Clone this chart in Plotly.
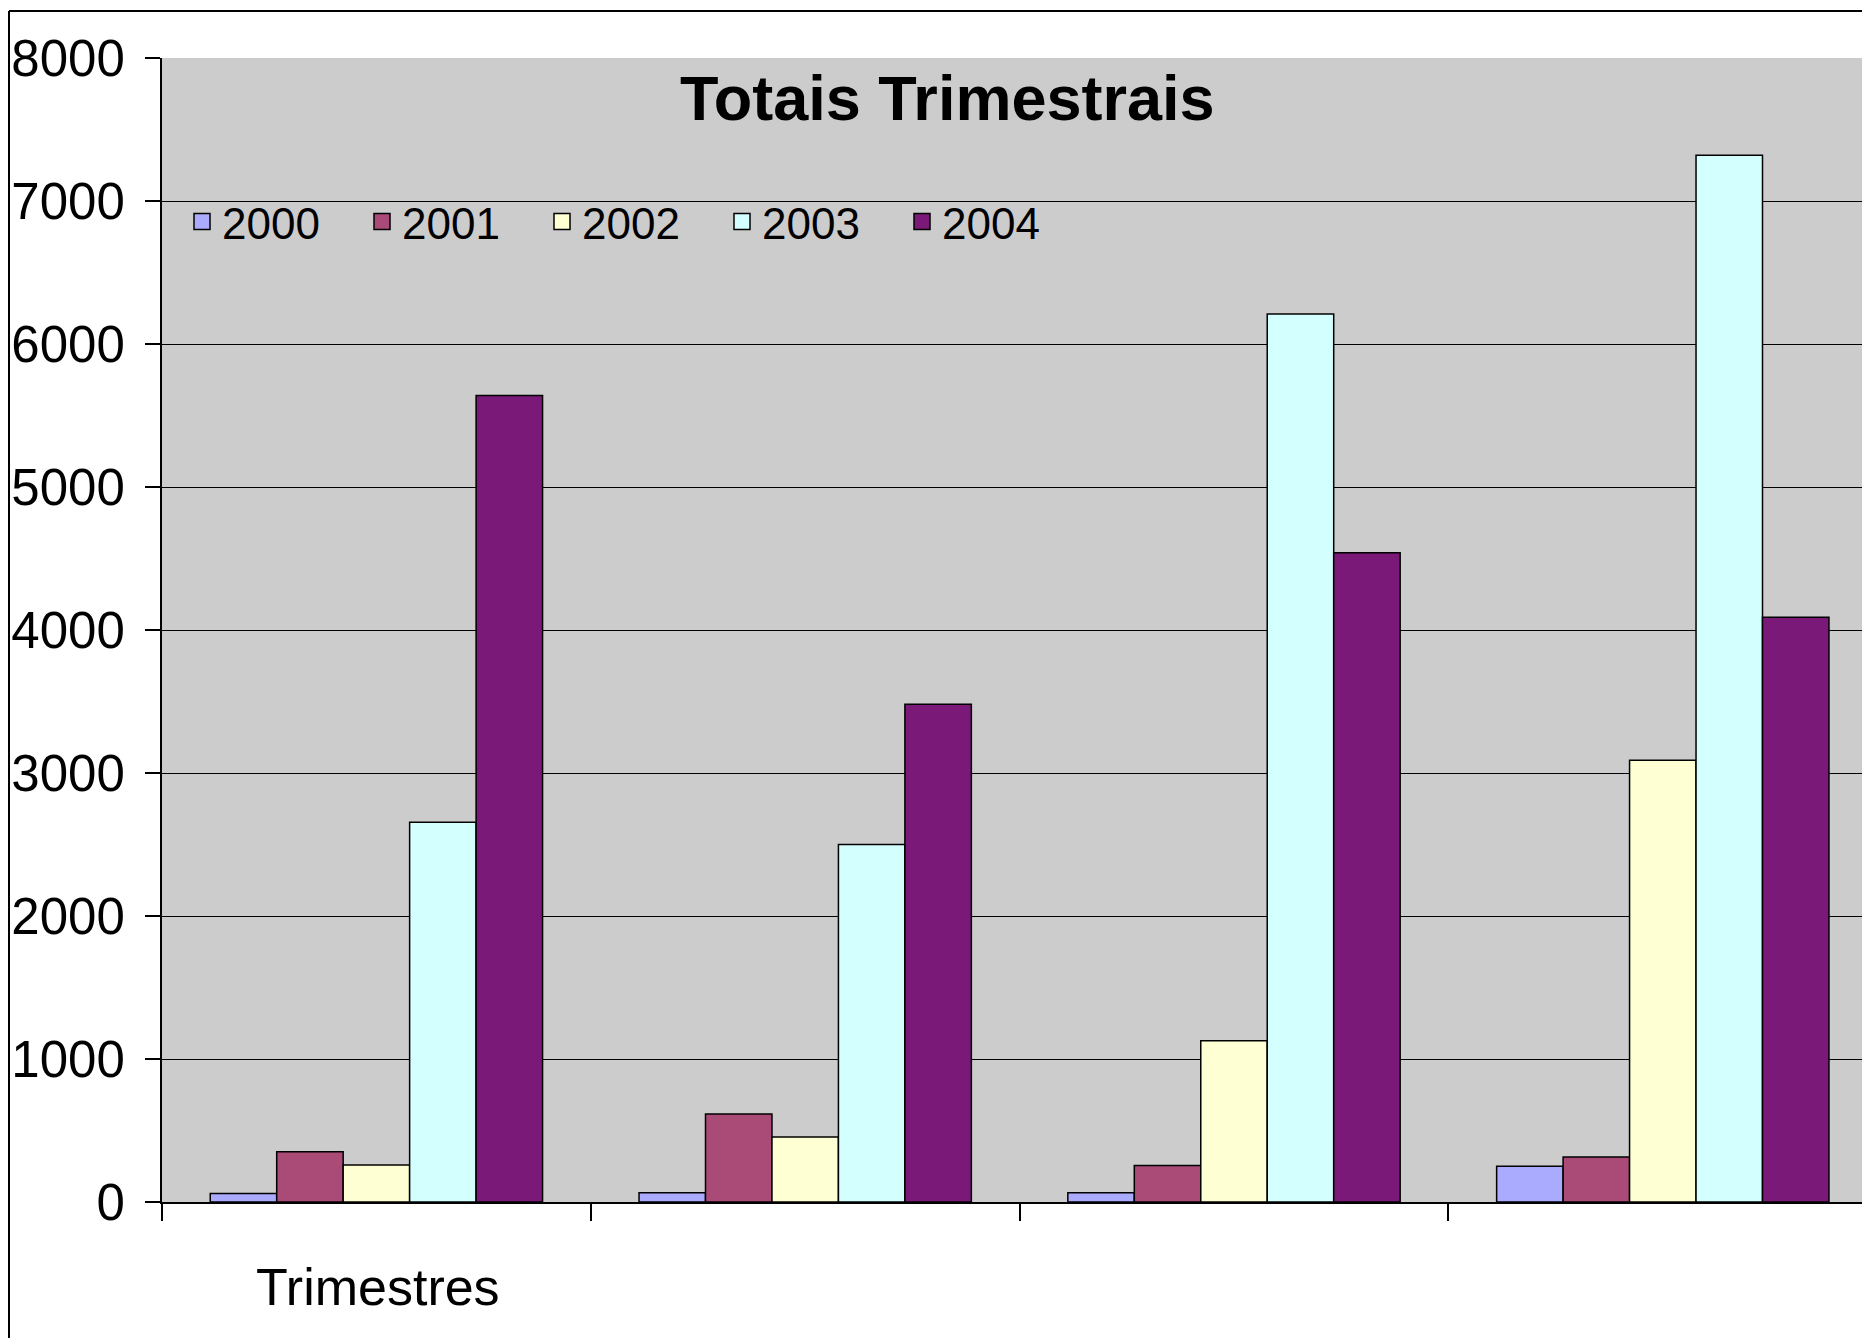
import plotly.graph_objects as go

# dados
trimestres = ["T1", "T2", "T3", "T4"]
anos = ["2000", "2001", "2002", "2003", "2004"]
v2000 = [60, 65, 64, 250]
v2001 = [352, 615, 255, 315]
v2002 = [258, 455, 1128, 3090]
v2003 = [2655, 2500, 6210, 7320]
v2004 = [5640, 3480, 4540, 4090]
valores = [v2000, v2001, v2002, v2003, v2004]
cores = ["#AAAAFF", "#AA4A77", "#FFFFD4", "#D4FFFF", "#7A1977"]

FONTE = "Liberation Sans Narrow, Arial Narrow, Liberation Sans, Arial"

# a página tem 8px de margem no body
OFF = 8
W, H = 1870 - OFF, 1338 - OFF
ML, MT = 162 - OFF, 58 - OFF
MB = H - (1202 - OFF)
PW = W - ML
PH = H - MT - MB


def px(x):
    # coordenada x da página -> paper
    return (x - OFF - ML) / PW


def py(y):
    # coordenada y da página -> paper
    return 1 - (y - OFF - MT) / PH


fig = go.Figure()

for ano, vals, cor in zip(anos, valores, cores):
    fig.add_trace(go.Bar(
        x=trimestres,
        y=vals,
        name=ano,
        marker=dict(color=cor, line=dict(color="black", width=1.5)),
        showlegend=False,
    ))
    # entrada de legenda (quadrado maior)
    fig.add_trace(go.Scatter(
        x=[None], y=[None],
        mode="markers",
        name=ano,
        marker=dict(symbol="square", size=18, color=cor,
                    line=dict(color="black", width=1.5)),
    ))

fig.update_layout(
    width=W,
    height=H,
    margin=dict(l=ML, r=0, t=MT, b=MB, pad=0, autoexpand=False),
    paper_bgcolor="white",
    plot_bgcolor="#CCCCCC",
    barmode="group",
    bargap=0.225,
    bargroupgap=0,
    font=dict(family=FONTE, color="black"),
    showlegend=True,
    legend=dict(
        orientation="h",
        x=px(182), y=py(222),
        xanchor="left", yanchor="middle",
        bgcolor="rgba(0,0,0,0)",
        font=dict(size=44, family=FONTE),
        entrywidth=135,
        entrywidthmode="pixels",
        itemsizing="trace",
    ),
    xaxis=dict(
        range=[-0.5, -0.5 + PW / 428.8],
        showticklabels=False,
        ticks="outside",
        tickson="boundaries",
        ticklen=17,
        tickcolor="black",
        tickwidth=1.5,
        showline=True,
        linecolor="black",
        linewidth=2,
        showgrid=False,
        zeroline=False,
        automargin=False,
    ),
    yaxis=dict(
        range=[0, 8000],
        tickvals=[0, 1000, 2000, 3000, 4000, 5000, 6000, 7000, 8000],
        ticks="outside",
        ticklen=15,
        tickcolor="black",
        tickwidth=1.5,
        ticklabelstandoff=10,
        tickfont=dict(size=51, family=FONTE),
        showline=True,
        linecolor="black",
        linewidth=2,
        showgrid=True,
        gridcolor="black",
        gridwidth=1,
        zeroline=False,
        automargin=False,
    ),
    annotations=[
        dict(
            text="<b>Totais Trimestrais</b>",
            xref="paper", yref="paper",
            x=px(947), y=py(98),
            xanchor="center", yanchor="middle",
            showarrow=False,
            font=dict(size=63, family=FONTE, color="black"),
        ),
        dict(
            text="Trimestres",
            xref="paper", yref="paper",
            x=px(378), y=py(1287),
            xanchor="center", yanchor="middle",
            showarrow=False,
            font=dict(size=52, family=FONTE, color="black"),
        ),
    ],
    shapes=[
        # moldura da área do gráfico
        dict(type="line", xref="paper", yref="paper",
             x0=px(9), x1=1.05, y0=py(11), y1=py(11),
             line=dict(color="black", width=2)),
        dict(type="line", xref="paper", yref="paper",
             x0=px(9), x1=px(9), y0=py(11), y1=py(1400),
             line=dict(color="black", width=2)),
    ],
)

fig.write_html("out.html")
